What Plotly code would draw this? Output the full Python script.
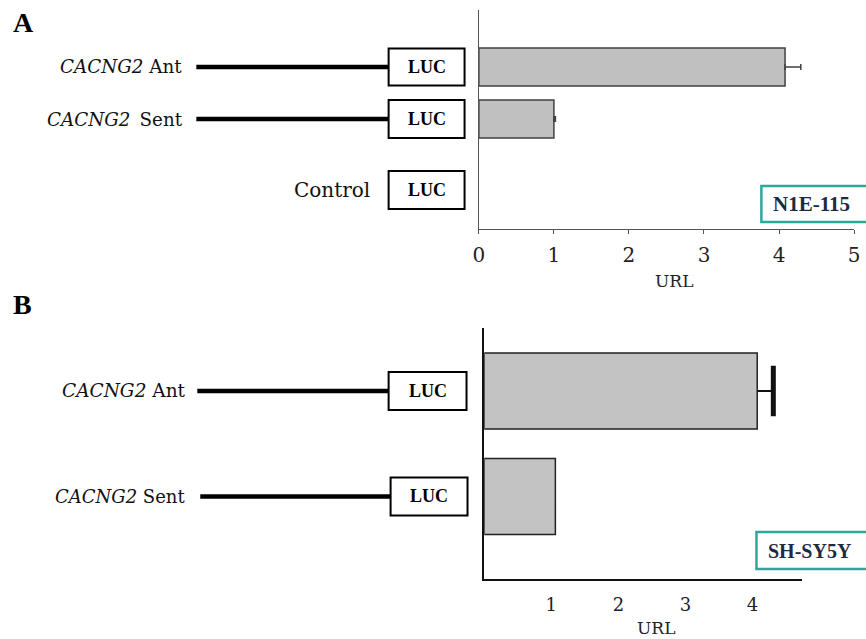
import plotly.graph_objects as go

# ---------------- data ----------------
constructs_a = ["CACNG2 Ant", "CACNG2 Sent", "Control"]
url_a = [4.08, 1.0, None]
err_a = [0.21, 0.02, 0.0]
cell_a = "N1E-115"

constructs_b = ["CACNG2 Ant", "CACNG2 Sent"]
url_b = [4.07, 1.06]
err_b = [0.24, 0.0]
cell_b = "SH-SY5Y"

ticks_a = [0, 1, 2, 3, 4, 5]
ticks_b = [1, 2, 3, 4]

# ---------------- layout constants ----------------
W, H = 866, 639
ROWS_A = [3.0, 2.0, 0.635]      # row positions on panel A's y axis
ROWS_B = [2.0, 1.0]             # row positions on panel B's y axis
YR_A = [-0.115, 4.096]
YR_B = [0.218, 2.597]
XR_A = [0, 5]
XR_B = [0, 4.735]
DOM_XA = [479.5 / W, 860 / W]
DOM_YA = [1 - 229 / H, 1 - 10 / H]
DOM_XB = [485 / W, 807 / W]
DOM_YB = [1 - 579 / H, 1 - 328 / H]

SERIF = "DejaVu Serif"
BOLD = "Liberation Serif"


def px(x):
    return x / W


def py(y):
    return 1 - y / H


def ya(v):
    return DOM_YA[0] + (v - YR_A[0]) / (YR_A[1] - YR_A[0]) * (DOM_YA[1] - DOM_YA[0])


def yb(v):
    return DOM_YB[0] + (v - YR_B[0]) / (YR_B[1] - YR_B[0]) * (DOM_YB[1] - DOM_YB[0])


fig = go.Figure()

# Panel A bars
fig.add_trace(go.Bar(
    x=url_a, y=ROWS_A, orientation="h", width=0.73,
    marker=dict(color="#c0c0c0", line=dict(color="#404040", width=1.5)),
    error_x=dict(type="data", symmetric=False, array=err_a, arrayminus=[0] * len(err_a),
                 color="#404040", thickness=1.5, width=3),
    xaxis="x", yaxis="y", showlegend=False, hoverinfo="x",
))

# Panel B bars
fig.add_trace(go.Bar(
    x=url_b, y=ROWS_B, orientation="h", width=0.72,
    marker=dict(color="#c3c3c3", line=dict(color="#222222", width=1.5)),
    error_x=dict(type="data", symmetric=False, array=err_b, arrayminus=[0] * len(err_b),
                 color="#111111", thickness=2, width=0),
    xaxis="x2", yaxis="y2", showlegend=False, hoverinfo="x",
))
# thick cap of panel B error bar
fig.add_trace(go.Scatter(
    x=[url_b[0] + err_b[0]], y=[ROWS_B[0]], mode="markers",
    marker=dict(symbol="line-ns", size=36, line=dict(color="#111111", width=5)),
    xaxis="x2", yaxis="y2", showlegend=False, hoverinfo="skip",
))

shapes = []
annotations = []

# Panel labels
annotations.append(dict(x=px(5), y=py(23), text="<b>A</b>", xanchor="left", yanchor="middle",
                        font=dict(family=BOLD, size=28, color="#000")))
annotations.append(dict(x=px(5), y=py(304), text="<b>B</b>", xanchor="left", yanchor="middle",
                        font=dict(family=BOLD, size=28, color="#000")))


def construct(label, row_y, text_right, line_x0, box_x0, box_x1, half_h, size, has_line=True):
    if has_line:
        shapes.append(dict(type="line", xref="paper", yref="paper",
                           x0=px(line_x0), x1=px(box_x0), y0=row_y, y1=row_y,
                           line=dict(color="#000", width=4.5)))
    shapes.append(dict(type="rect", xref="paper", yref="paper",
                       x0=px(box_x0), x1=px(box_x1), y0=row_y - half_h / H, y1=row_y + half_h / H,
                       line=dict(color="#000", width=2), fillcolor="#fff"))
    annotations.append(dict(x=px((box_x0 + box_x1) / 2), y=row_y, text="<b>LUC</b>",
                            xanchor="center", yanchor="middle",
                            font=dict(family=BOLD, size=18, color="#000")))
    annotations.append(dict(x=px(text_right), y=row_y, text=label, xanchor="right", yanchor="middle",
                            font=dict(family=SERIF, size=size, color="#111")))


def fmt(name, wide_space=False):
    if name.startswith("CACNG2"):
        rest = name.split(" ", 1)[1]
        sep = "&#8194;" if wide_space else " "
        return "<i>CACNG2</i>" + sep + rest
    return name


construct(fmt(constructs_a[0]), ya(ROWS_A[0]), 181, 193, 388, 465, 18.5, 18.3)
construct(fmt(constructs_a[1], True), ya(ROWS_A[1]), 182, 193, 388, 465, 19, 18.3)
construct(fmt(constructs_a[2]), ya(ROWS_A[2]), 371, 0, 388, 465, 19, 20, has_line=False)

construct(fmt(constructs_b[0]), yb(ROWS_B[0]), 185, 194, 388, 467, 19, 18.5)
construct(fmt(constructs_b[1]), yb(ROWS_B[1]), 184, 197, 390, 468, 19, 18)

# Cell line boxes
shapes.append(dict(type="rect", xref="paper", yref="paper", x0=px(766), x1=px(880),
                   y0=py(222), y1=py(186), line=dict(color="#2ca89c", width=2.5), fillcolor="#fff"))
annotations.append(dict(x=px(817), y=py(204), text="<b>" + cell_a + "</b>", xanchor="center",
                        yanchor="middle", font=dict(family=BOLD, size=21, color="#1c2b45")))
shapes.append(dict(type="rect", xref="paper", yref="paper", x0=px(761), x1=px(880),
                   y0=py(569), y1=py(532), line=dict(color="#2ca89c", width=2.5), fillcolor="#fff"))
annotations.append(dict(x=px(815.5), y=py(551), text="<b>" + cell_b + "</b>", xanchor="center",
                        yanchor="middle", font=dict(family=BOLD, size=20, color="#1c2b45")))

# axis titles
annotations.append(dict(x=px(677), y=py(281), text="URL", xanchor="center", yanchor="middle",
                        font=dict(family=SERIF, size=17, color="#222")))
annotations.append(dict(x=px(659), y=py(628), text="URL", xanchor="center", yanchor="middle",
                        font=dict(family=SERIF, size=17, color="#222")))

for a in annotations:
    a.setdefault("xref", "paper")
    a.setdefault("yref", "paper")
    a["showarrow"] = False

fig.update_layout(
    width=W, height=H, margin=dict(l=0, r=0, t=0, b=0),
    paper_bgcolor="#ffffff", plot_bgcolor="rgba(0,0,0,0)",
    barmode="overlay",
    xaxis=dict(domain=DOM_XA, range=XR_A, anchor="y", showgrid=False, zeroline=False,
               showline=True, linecolor="#555", linewidth=1.2,
               ticks="outside", ticklen=4, tickcolor="#555", tickwidth=1.2,
               tickvals=ticks_a, ticktext=[str(t) for t in ticks_a], ticklabeloverflow="allow",
               tickfont=dict(family=SERIF, size=20, color="#222"), ticklabelstandoff=4),
    yaxis=dict(domain=DOM_YA, range=YR_A, anchor="x", showgrid=False, zeroline=False,
               showline=True, linecolor="#555", linewidth=1.2, showticklabels=False, ticks=""),
    xaxis2=dict(domain=DOM_XB, range=XR_B, anchor="y2", showgrid=False, zeroline=False,
                showline=True, linecolor="#111", linewidth=2.2, ticks="",
                tickvals=ticks_b, ticktext=[str(t) for t in ticks_b],
                tickfont=dict(family=SERIF, size=18, color="#222"), ticklabelstandoff=8),
    yaxis2=dict(domain=DOM_YB, range=YR_B, anchor="x2", showgrid=False, zeroline=False,
                showline=True, linecolor="#111", linewidth=2.2, showticklabels=False, ticks=""),
    shapes=shapes,
    annotations=annotations,
)

fig.write_html(
    "out.html",
    config={"displayModeBar": False},
    post_script="document.body.style.margin='0';document.body.style.padding='0';"
                "document.body.style.overflow='hidden';",
)
